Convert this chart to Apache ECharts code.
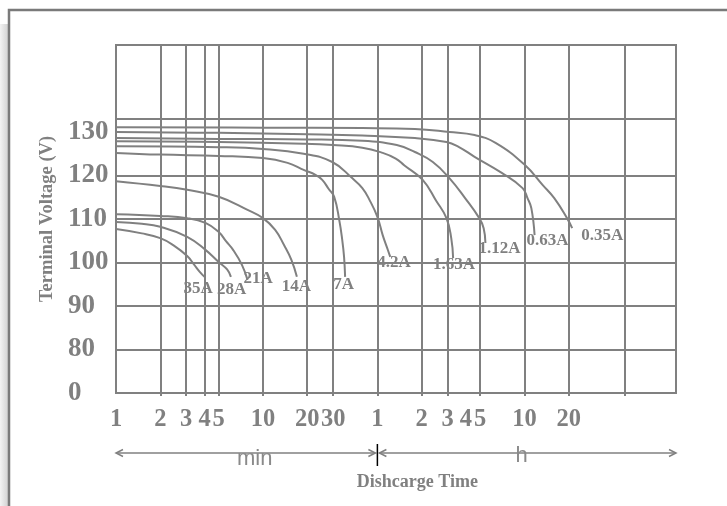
<!DOCTYPE html>
<html><head><meta charset="utf-8">
<script src="https://cdn.jsdelivr.net/npm/echarts@6/dist/echarts.min.js"></script>
<style>html,body{margin:0;padding:0;background:#fff}#c{width:727px;height:506px}</style>
</head><body><div id="c"></div>
<script>
// ---- data (time in minutes, voltage in V) ----
const seriesNames = ['35A','28A','21A','14A','7A','4.2A','1.63A','1.12A','0.63A','0.35A'];
const c35A = [[1,107.7],[1.5,106.7],[2,105.6],[2.45,104.0],[3.05,101.5],[3.4,99.5],[3.7,97.9],[4,96.7]];
const c28A = [[1,109.3],[1.5,108.9],[2,108.2],[3.05,105.9],[4.06,102.9],[5,100.1],[5.7,98.4],[6.05,96.7]];
const c21A = [[1,111.1],[2,110.7],[3.05,110.2],[4.06,109.1],[5,107.0],[5.6,104.9],[6.26,102.9],[7.2,99.4],[7.85,96.0]];
const c14A = [[1,118.7],[2,117.6],[3.05,116.7],[5,115.1],[7.85,112.1],[10,110.2],[12.1,107.5],[13.9,104.0],[15.6,100.6],[17,96.7]];
const c7A = [[1,125.2],[2,124.8],[5,124.5],[10,124.0],[14.7,122.9],[18.9,121.3],[22.9,120.1],[25.3,119.0],[28,116.9],[30.5,115.1],[33,109.8],[34.6,105.2],[35.6,101.3],[36.2,96.7]];
const c4_2A = [[1,126.7],[5,126.5],[10,126.1],[18.9,125.0],[29.6,123.1],[40.4,119.4],[47.4,117.1],[53,114.4],[60,110.5],[65.2,106.3],[70,103.3],[73.4,101.3]];
const c1_63A = [[1,127.9],[5,127.7],[18.9,127.3],[30,127.0],[47.4,126.4],[65.2,125.2],[80,123.9],[91.7,122.3],[122,119.0],[150.6,114.2],[177,110.2],[190.8,105.6],[196.5,101.0]];
const c1_12A = [[1,128.6],[5,128.4],[20,128.3],[47.4,128.0],[81.3,127.0],[108,125.4],[143,123.1],[185.3,119.4],[237,114.8],[296,110.2],[317,107.9],[326,104.5]];
const c0_63A = [[1,130.0],[5,129.8],[20,129.5],[47.4,129.2],[108,128.6],[177,127.7],[214,126.6],[275,124.3],[421,120.6],[583,117.1],[630,114.8],[669,112.5],[704,106.3]];
const c0_35A = [[1,131.1],[10,131.0],[47.4,130.9],[108,130.7],[185.3,130.0],[275,129.3],[382,127.5],[605,122.4],[800,117.8],[958,114.8],[1170,110.2],[1269,107.9]];
const curves = [c35A,c28A,c21A,c14A,c7A,c4_2A,c1_63A,c1_12A,c0_63A,c0_35A];

const xMin = 1, xMax = 6450;
const xGridVals = [2,3,4,5,10,20,30,60,120,180,300,600,1200,2880];
const xLabelVals = [1,2,3,4,5,10,20,30,60,120,180,240,300,600,1200];
const xLabelText = ['1','2','3','4','5','10','20','30','1','2','3','4','5','10','20'];
const yMin = 70, yMax = 150;
const yGridVals = [80,90,100,110,120,133];
const yLabelVals = [70,80,90,100,110,120,130];
const yLabelText = ['0','80','90','100','110','120','130'];

// ---- styles ----
const GRAY = '#808080';
const SERIF = '"Liberation Serif","Times New Roman",serif';
const SANS = '"Liberation Sans",Arial,sans-serif';
const labelOffsets = [[-21,12],[-14,13],[-4,-1],[-15,10],[-12,8],[-13,6],[-20,6],[-7,6],[-8,6],[9,7]];

function lookup(vals, texts, v){
  let best = 0, bd = Infinity;
  vals.forEach((x,i)=>{ const d = Math.abs(Math.log(x)-Math.log(v)); if(d<bd){bd=d;best=i;} });
  return texts[best];
}
function lookupLin(vals, texts, v){
  let best = 0, bd = Infinity;
  vals.forEach((x,i)=>{ const d = Math.abs(x-v); if(d<bd){bd=d;best=i;} });
  return texts[best];
}

const chart = echarts.init(document.getElementById('c'));
chart.setOption({
  animation:false,
  backgroundColor:'#ffffff',
  grid:{left:116, top:45, right:51, bottom:113, show:true, borderColor:GRAY, borderWidth:2,
        backgroundColor:'transparent', containLabel:false, outerBoundsMode:'none'},
  xAxis:{type:'log', logBase:10, min:xMin, max:xMax,
    axisLine:{show:false},
    axisTick:{show:true, length:3, customValues:xGridVals, lineStyle:{color:GRAY,width:2}},
    splitLine:{show:true, lineStyle:{color:GRAY,width:2}},
    minorTick:{show:false}, minorSplitLine:{show:false},
    axisLabel:{customValues:xLabelVals, formatter:v=>lookup(xLabelVals,xLabelText,v),
      margin:14, color:GRAY, fontFamily:SERIF, fontWeight:'bold', fontSize:24.5}
  },
  yAxis:{type:'value', min:yMin, max:yMax,
    name:'Terminal Voltage (V)', nameLocation:'middle', nameGap:49, nameRotate:90,
    nameTextStyle:{color:GRAY, fontFamily:SERIF, fontWeight:'bold', fontSize:18.5},
    axisLine:{show:false},
    axisTick:{show:false, customValues:yGridVals},
    splitLine:{show:true, lineStyle:{color:GRAY,width:2}},
    axisLabel:{customValues:yLabelVals, formatter:v=>lookupLin(yLabelVals,yLabelText,v),
      align:'left', margin:48, color:GRAY, fontFamily:SERIF, fontWeight:'bold', fontSize:27}
  },
  series: curves.map((d,i)=>({
    type:'line', name:seriesNames[i], data:d, showSymbol:false, symbol:'none',
    smooth:0.45,
    lineStyle:{color:GRAY, width:2}, itemStyle:{color:GRAY},
    endLabel:{show:true, formatter:seriesNames[i], distance:0, align:'left', verticalAlign:'middle',
      offset:labelOffsets[i], color:GRAY, fontFamily:SERIF, fontWeight:'bold', fontSize:17},
    emphasis:{disabled:true}
  }))
});

// ---- decorations positioned from the axis scale ----
const xa = chart.convertToPixel({xAxisIndex:0}, xMin);
const xb = chart.convertToPixel({xAxisIndex:0}, 60);
const xc = chart.convertToPixel({xAxisIndex:0}, xMax);
const yBase = chart.convertToPixel({yAxisIndex:0}, yMin);
const yA = yBase + 60;
const ah = (x, dir)=>({type:'polyline', shape:{points:[[x+dir*7,yA-3.5],[x,yA],[x+dir*7,yA+3.5]]},
  style:{stroke:GRAY, lineWidth:1.5, fill:null}});
chart.setOption({graphic:[
  {type:'rect', shape:{x:0,y:24,width:8,height:490}, z:-10,
    style:{fill:new echarts.graphic.LinearGradient(0,0,1,0,[{offset:0,color:'#f3f3f3'},{offset:1,color:'#d2d2d2'}])}},
  {type:'rect', shape:{x:9,y:10,width:740,height:520}, style:{stroke:'#7a7a7a', lineWidth:2.5, fill:null}},
  {type:'line', shape:{x1:xa,y1:yA,x2:xb-2,y2:yA}, style:{stroke:GRAY,lineWidth:1.5}},
  ah(xa,1), ah(xb-2,-1),
  {type:'line', shape:{x1:xb,y1:yA-9,x2:xb,y2:yA+13}, style:{stroke:'#000',lineWidth:1.5}},
  {type:'line', shape:{x1:xb+2,y1:yA,x2:xc,y2:yA}, style:{stroke:GRAY,lineWidth:1.5}},
  ah(xb+2,1), ah(xc,-1),
  {type:'text', style:{text:'min', x:(xa+xb)/2+8, y:yA+6, align:'center', verticalAlign:'middle',
    fontFamily:SANS, fontSize:22, fill:'#8a8a8a'}},
  {type:'text', style:{text:'h', x:(xb+xc)/2-5, y:yA+3, align:'center', verticalAlign:'middle',
    fontFamily:SANS, fontSize:22, fill:'#8a8a8a'}},
  {type:'text', style:{text:'Dishcarge Time', x:xb+40, y:yA+29, align:'center', verticalAlign:'middle',
    fontFamily:SERIF, fontWeight:'bold', fontSize:18, fill:GRAY}}
]});
</script></body></html>
